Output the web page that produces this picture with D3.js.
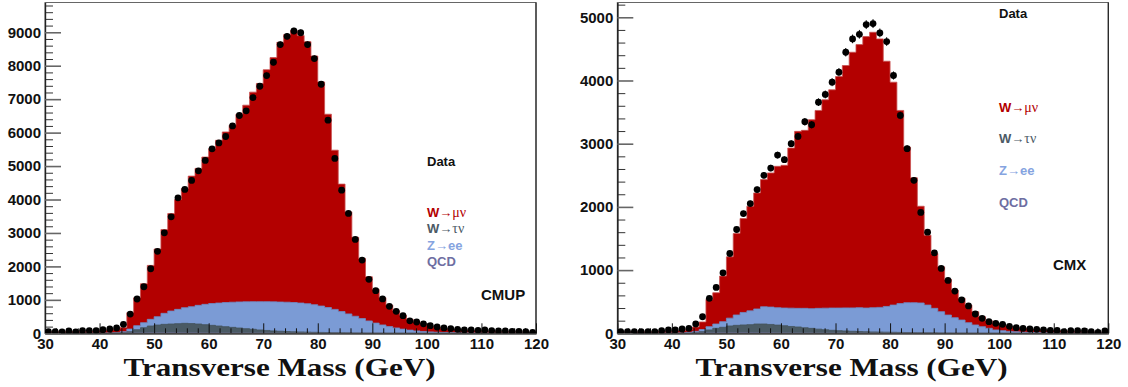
<!DOCTYPE html>
<html><head><meta charset="utf-8">
<script src="https://cdn.jsdelivr.net/npm/d3@7"></script>
<style>html,body{margin:0;padding:0;background:#fff;} svg{display:block}</style>
</head><body><svg id="c" width="1128" height="387"></svg>
<script>
// ---------- data ----------
const massRange = [30, 120];
const nBins = 72;
const xTickValues = [30, 40, 50, 60, 70, 80, 90, 100, 110, 120];
const xTitle = "Transverse Mass (GeV)";
const legendEntries = ["Data", "W→μν", "W→τν", "Z→ee", "QCD"];

const cmupYTicks = [0, 1000, 2000, 3000, 4000, 5000, 6000, 7000, 8000, 9000];
const cmxYTicks = [0, 1000, 2000, 3000, 4000, 5000];

// CMUP : data and stacked MC levels (top of each stack layer)
const cmupData = [48,48,40,70,40,78,78,78, 108,128,158,269,576,1025,1392,1930,
  2450,3005,3483,4050,4300,4570,4857,5167, 5514,5693,5884,6200,6511,6650,7049,7386,
  7706,8103,8632,8880,9038,8985,8632,8214, 7446,6371,5227,4280,3584,2808,2189,1613,
  1273,1029,805,656,527,372,338,283, 227,188,160,140,119,100,100,90,
  100,80,70,70,60,60,50,30];
const cmupWmunuTop = [45,45,48,50,52,55,60,68, 80,100,130,170,617,1060,1480,2030,
  2520,3100,3580,4000,4330,4700,4930,5270, 5520,5770,6020,6220,6550,6820,7210,7470,
  7880,8244,8700,8930,9050,8900,8720,8290, 7515,6550,5475,4460,3630,2870,2240,1690,
  1315,1063,845,675,537,418,348,278, 218,179,149,129,109,95,85,75,
  65,58,50,45,40,35,30,27];
const cmupZeeTop = [0,0,0,0,0,1,2,3, 5,8,15,48,128,228,317,418,
  497,597,666,716,766,796,836,866, 890,905,920,930,938,942,945,945,
  945,940,935,930,920,905,885,855, 815,770,715,650,580,510,440,370,
  305,250,200,160,125,95,72,55, 42,32,25,20,15,12,10,8,
  7,6,5,4,4,3,3,2];
const cmupWtaunuTop = [0,0,0,0,0,0,1,2, 3,5,8,20,48,108,168,218,
  248,268,278,288,298,290,278,258, 238,218,198,178,158,138,120,100,
  85,72,62,52,45,40,35,30, 26,22,19,16,13,11,9,7,
  6,5,4,4,3,3,2,2, 2,1,1,1,1,1,0,0,
  0,0,0,0,0,0,0,0];
const cmupQcdTop = [0,0,0,0,0,0,0,0, 0,0,2,4,6,8,10,12,
  12,12,12,12,10,10,10,8, 8,8,6,6,6,5,5,4,
  4,3,3,2,2,2,1,1, 0,0,0,0,0,0,0,0,
  0,0,0,0,0,0,0,0, 0,0,0,0,0,0,0,0,
  0,0,0,0,0,0,0,0];

// CMX
const cmxData = [26,26,26,26,26,26,42,53, 53,68,79,147,262,553,726,957,
  1263,1642,1895,2053,2274,2500,2615,2820, 2747,3000,3115,3347,3300,3657,3779,3973,
  4131,4447,4658,4731,4884,4900,4753,4616, 4079,3447,2921,2420,1913,1600,1273,1026,
  837,668,530,433,305,237,184,158, 142,110,89,79,68,63,55,45,
  47,26,42,42,37,26,16,37];
const cmxWmunuTop = [20,20,22,22,25,25,28,32, 38,45,60,100,180,537,642,905,
  1210,1579,1816,2010,2221,2432,2537,2642, 2658,2931,3195,3211,3379,3526,3695,3853,
  4063,4237,4447,4568,4695,4763,4658,4305, 3973,3526,2947,2460,2010,1552,1263,1052,
  853,684,553,447,341,262,199,158, 131,105,89,79,68,60,52,45,
  40,35,30,27,24,21,18,16];
const cmxZeeTop = [0,0,0,0,0,0,1,2, 3,5,15,30,60,105,147,184,
  240,290,330,355,385,420,415,405, 400,398,395,395,390,395,398,400,
  400,402,402,405,400,405,410,425, 447,470,484,484,480,447,395,342,
  289,247,210,168,132,105,79,53, 42,30,24,18,14,11,9,7,
  6,5,4,3,3,2,2,2];
const cmxWtaunuTop = [0,0,0,0,0,0,0,1, 1,2,4,10,26,53,79,95,
  116,126,132,137,147,147,140,130, 120,108,100,88,78,66,56,48,
  42,37,32,28,25,22,20,18, 16,14,12,10,9,8,7,6,
  5,4,4,3,3,2,2,2, 1,1,1,1,1,0,0,0,
  0,0,0,0,0,0,0,0];
const cmxQcdTop = [0,0,0,0,0,0,0,0, 0,0,1,2,3,4,5,6,
  6,6,6,6,5,5,5,4, 4,4,3,3,3,2,2,2,
  2,1,1,1,1,1,1,1, 0,0,0,0,0,0,0,0,
  0,0,0,0,0,0,0,0, 0,0,0,0,0,0,0,0,
  0,0,0,0,0,0,0,0];

// ---------- styles / layout ----------
const COL = {wmunu:"#b30000", wtaunu:"#4a5a64", zee:"#7b9bd5", qcd:"#6c6ca6"};
const TXT = {wmunu:"#b30000", wtaunu:"#4c5a66", zee:"#85a4e0", qcd:"#6e6ea2"};
const sans = "'Liberation Sans', Arial, Helvetica, sans-serif";
const serif = "'Liberation Serif', 'Times New Roman', serif";

const panels = [
  {x0:45, x1:536, y0:2.5, y1:333.3, yMax:9890, yTicks:cmupYTicks, data:cmupData,
   layers:[cmupWmunuTop, cmupZeeTop, cmupWtaunuTop, cmupQcdTop], tag:"CMUP",
   legX:427, legY:[165.7,217,233,249.7,265.7], tagX:481, tagY:300.4, titleX:279.5},
  {x0:617.3, x1:1108.3, y0:2.5, y1:333.3, yMax:5234, yTicks:cmxYTicks, data:cmxData,
   layers:[cmxWmunuTop, cmxZeeTop, cmxWtaunuTop, cmxQcdTop], tag:"CMX",
   legX:999, legY:[18,112.4,143,175.4,207], tagX:1053, tagY:270.4, titleX:851.5}
];
const layerColors = [COL.wmunu, COL.zee, COL.wtaunu, COL.qcd];
const layerEdge = ["#c85050", "#6f8cc4", "#44535c", "#6c6ca6"];

const svg = d3.select("#c");
const binW = (massRange[1]-massRange[0])/nBins;
const edges = d3.range(nBins+1).map(i => massRange[0] + i*binW);

panels.forEach((p, pi) => {
  const xs = d3.scaleLinear().domain(massRange).range([p.x0, p.x1]);
  const ys = d3.scaleLinear().domain([0, p.yMax]).range([p.y1, p.y0]);
  const g = svg.append("g");
  const clipId = "clip" + pi;
  svg.append("clipPath").attr("id", clipId).append("rect")
    .attr("x", p.x0).attr("y", p.y0).attr("width", p.x1-p.x0).attr("height", p.y1-p.y0);

  const hg = g.append("g").attr("clip-path", `url(#${clipId})`);
  p.layers.forEach((vals, li) => {
    const pts = vals.map((v,i) => ({x: edges[i], v})).concat([{x: edges[nBins], v: vals[nBins-1]}]);
    const area = d3.area().curve(d3.curveStepAfter).x(d => xs(d.x)).y0(p.y1).y1(d => ys(d.v));
    const line = d3.line().curve(d3.curveStepAfter).x(d => xs(d.x)).y(d => ys(d.v));
    hg.append("path").attr("d", area(pts)).attr("fill", layerColors[li]);
    hg.append("path").attr("d", line(pts)).attr("fill", "none")
      .attr("stroke", layerEdge[li]).attr("stroke-width", 0.8);
  });

  // frame
  g.append("rect").attr("x", p.x0).attr("y", p.y0).attr("width", p.x1-p.x0).attr("height", p.y1-p.y0)
    .attr("fill", "none").attr("stroke", "#666").attr("stroke-width", 1);
  g.append("line").attr("x1", p.x1).attr("x2", p.x1).attr("y1", p.y0).attr("y2", p.y1)
    .attr("stroke", "#222").attr("stroke-width", 1.2);

  // x axis
  const minorX = d3.range(massRange[0], massRange[1]+0.001, 2).filter(v => xTickValues.indexOf(v) < 0);
  const xMinor = d3.axisBottom(xs).tickValues(minorX).tickSize(-5).tickSizeOuter(0).tickFormat("");
  const xMajor = d3.axisBottom(xs).tickValues(xTickValues).tickSize(-10).tickSizeOuter(0).tickPadding(5.5);
  const gxm = g.append("g").attr("transform", `translate(0,${p.y1})`).call(xMinor);
  const gx = g.append("g").attr("transform", `translate(0,${p.y1})`).call(xMajor);
  [gxm, gx].forEach(a => { a.selectAll(".tick line").attr("stroke", "#111").attr("stroke-width", 1);
    a.select(".domain").attr("stroke", "#444").attr("stroke-width", 1.6); });
  gx.selectAll("text").attr("font-family", sans).attr("font-weight", "bold").attr("font-size", 15).attr("fill", "#111");

  // y axis
  const step = p.yTicks[1] - p.yTicks[0];
  const minorY = d3.range(0, p.yMax, step/5).filter(v => Math.abs(v/step - Math.round(v/step)) > 1e-6);
  const yMinor = d3.axisLeft(ys).tickValues(minorY).tickSize(-8).tickSizeOuter(0).tickFormat("");
  const yMajor = d3.axisLeft(ys).tickValues(p.yTicks).tickSize(-16).tickSizeOuter(0).tickPadding(4).tickFormat(d3.format("d"));
  const gym = g.append("g").attr("transform", `translate(${p.x0},0)`).call(yMinor);
  const gy = g.append("g").attr("transform", `translate(${p.x0},0)`).call(yMajor);
  gym.selectAll(".tick line").attr("stroke", "#333").attr("stroke-width", 1);
  gy.selectAll(".tick line").attr("stroke", "#666").attr("stroke-width", 1.6);
  [gym, gy].forEach(a => a.select(".domain").attr("stroke", "#222").attr("stroke-width", 1.2));
  gy.selectAll("text").attr("font-family", sans).attr("font-weight", "bold").attr("font-size", 15).attr("fill", "#111");

  // data points
  const dg = g.append("g").attr("clip-path", `url(#${clipId})`);
  p.data.forEach((v, i) => {
    const cx = xs(edges[i] + binW/2);
    const e = Math.sqrt(v);
    dg.append("line").attr("x1", cx).attr("x2", cx).attr("y1", ys(v - e)).attr("y2", ys(v + e))
      .attr("stroke", "#000").attr("stroke-width", 1);
    dg.append("circle").attr("cx", cx).attr("cy", ys(v)).attr("r", 3.4).attr("fill", "#000");
  });

  // legend
  const legCols = ["#111", TXT.wmunu, TXT.wtaunu, TXT.zee, TXT.qcd];
  legendEntries.forEach((lab, li) => {
    const t = g.append("text").attr("x", p.legX).attr("y", p.legY[li])
      .attr("font-family", sans).attr("font-weight", "bold").attr("font-size", 13).attr("fill", legCols[li]);
    if (lab.indexOf("→") >= 0) {
      const [a, b] = lab.split("→");
      t.append("tspan").text(a);
      t.append("tspan").attr("font-family", serif).attr("font-weight", "normal").attr("font-size", 13).text("→");
      const isGreek = /[μντ]/.test(b);
      t.append("tspan").attr("font-family", isGreek ? serif : sans)
        .attr("font-weight", isGreek ? "normal" : "bold").attr("font-size", isGreek ? 14 : 13).text(b);
    } else t.text(lab);
  });
  g.append("text").attr("x", p.tagX).attr("y", p.tagY).attr("font-family", sans).attr("font-weight", "bold")
    .attr("font-size", 15).attr("fill", "#111").text(p.tag);

  // axis title
  g.append("text").attr("x", p.titleX).attr("y", 376).attr("text-anchor", "middle")
    .attr("font-family", serif).attr("font-weight", "bold").attr("font-size", 26).attr("fill", "#111")
    .attr("textLength", 312).attr("lengthAdjust", "spacingAndGlyphs").text(xTitle);
});
</script></body></html>
